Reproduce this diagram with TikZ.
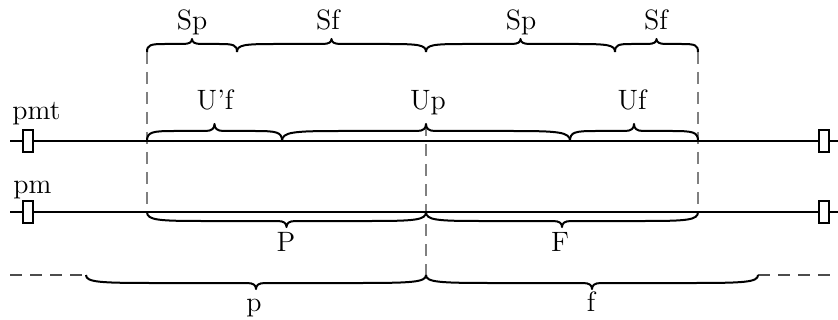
\documentclass[tikz,border=0pt]{standalone}
\usetikzlibrary{calc}
\newcommand\cbrace[5][]{% #2 start, #3 end, #4 amplitude (signed), #5 tip height (signed)
 \draw[bracepath,#1] let \p1=(#2), \p2=(#3) in
  (\p1) .. controls (\x1,{\y1+0.9*(#4)}) and ({\x1+(\x2-\x1)/25},{\y1+(#4)}) .. ({\x1+(\x2-\x1)/5},{\y1+(#4)})
  -- ({(\x1+\x2)/2-4.5pt},{\y1+(#4)})
  .. controls ({(\x1+\x2)/2-1.2pt},{\y1+(#4)}) and ({(\x1+\x2)/2},{\y1+(#4)+0.4*(#5)}) .. ({(\x1+\x2)/2},{\y1+(#4)+(#5)})
  .. controls ({(\x1+\x2)/2},{\y1+(#4)+0.4*(#5)}) and ({(\x1+\x2)/2+1.2pt},{\y1+(#4)}) .. ({(\x1+\x2)/2+4.5pt},{\y1+(#4)})
  -- ({\x2-(\x2-\x1)/5},{\y1+(#4)})
  .. controls ({\x2-(\x2-\x1)/25},{\y1+(#4)}) and (\x2,{\y1+0.9*(#4)}) .. (\p2);
}
\begin{document}
\begin{tikzpicture}[x=0.5pt,y=-0.5pt,
  lbl/.style={anchor=base, inner sep=0pt, font=\fontsize{14}{16}\selectfont},
  lblw/.style={anchor=base west, inner sep=0pt, font=\fontsize{14}{16}\selectfont},
  seg/.style={line width=0.8pt},
  guide/.style={dash pattern=on 6pt off 4pt, gray, line width=0.7pt},
  hguide/.style={dash pattern=on 6pt off 4pt, black!70, line width=0.6pt},
  mark box/.style={draw, fill=white, line width=0.8pt, minimum width=5pt, minimum height=11pt, inner sep=0pt},
  bracepath/.style={line width=1pt, line join=round},
]
\useasboundingbox (0,0) rectangle (838,320);
% coordinates
\coordinate (T1) at (147,52); \coordinate (T2) at (237,52); \coordinate (T3) at (426,52);
\coordinate (T4) at (615,52); \coordinate (T5) at (698,52);
\coordinate (M1) at (147,141); \coordinate (M2) at (282,141); \coordinate (M3) at (570,141);
\coordinate (M4) at (698,141); \coordinate (Mtip) at (426,124);
\coordinate (L1) at (10,141); \coordinate (R1) at (838,141);
\coordinate (L2) at (10,212); \coordinate (R2) at (838,212);
\coordinate (B1) at (147,212); \coordinate (B2) at (426,212); \coordinate (B3) at (698,212);
\coordinate (D0) at (10,275); \coordinate (D1) at (86,275); \coordinate (D2) at (426,275);
\coordinate (D3) at (758,275); \coordinate (D4) at (838,275);
% guides
\draw[guide] (T1) -- (B1);
\draw[guide] (T5) -- (B3);
\draw[guide] (Mtip) -- (D2);
\draw[hguide] (D0) -- (D1);
\draw[hguide] (D3) -- (D4);
% main lines
\draw[seg] (L1) -- (R1);
\draw[seg] (L2) -- (R2);
\node[mark box] (r1) at (28,141) {};
\node[mark box] (r2) at (824,141) {};
\node[mark box] (r3) at (28,212) {};
\node[mark box] (r4) at (824,212) {};
% top braces
\cbrace{T1}{T2}{4pt}{2.5pt}
\cbrace{T2}{T3}{4pt}{2.5pt}
\cbrace{T3}{T4}{4pt}{2.5pt}
\cbrace{T4}{T5}{4pt}{2.5pt}
% pmt braces
\cbrace{M1}{M2}{5pt}{3.5pt}
\cbrace{M2}{M3}{5pt}{3.5pt}
\cbrace{M3}{M4}{5pt}{3.5pt}
% pm braces
\cbrace{B1}{B2}{-4.5pt}{-3pt}
\cbrace{B2}{B3}{-4.5pt}{-3pt}
% bottom braces
\cbrace{D1}{D2}{-4pt}{-3pt}
\cbrace{D2}{D3}{-4pt}{-3pt}
% labels
\node[lbl] (sp1) at (192,30) {Sp};
\node[lbl] (sf1) at (328,30) {Sf};
\node[lbl] (sp2) at (521,30) {Sp};
\node[lbl] (sf2) at (656,30) {Sf};
\node[lbl] (uf1) at (215,110) {U'f};
\node[lbl] (up) at (428,110) {Up};
\node[lbl] (uf2) at (632,110) {Uf};
\node[lblw] (pmt) at (12,120) {pmt};
\node[lblw] (pm) at (13,193) {pm};
\node[lbl] (P) at (286,251) {P};
\node[lbl] (F) at (560,251) {F};
\node[lbl] (p) at (254,311) {p};
\node[lbl] (f) at (591,311) {f};
\end{tikzpicture}
\end{document}
